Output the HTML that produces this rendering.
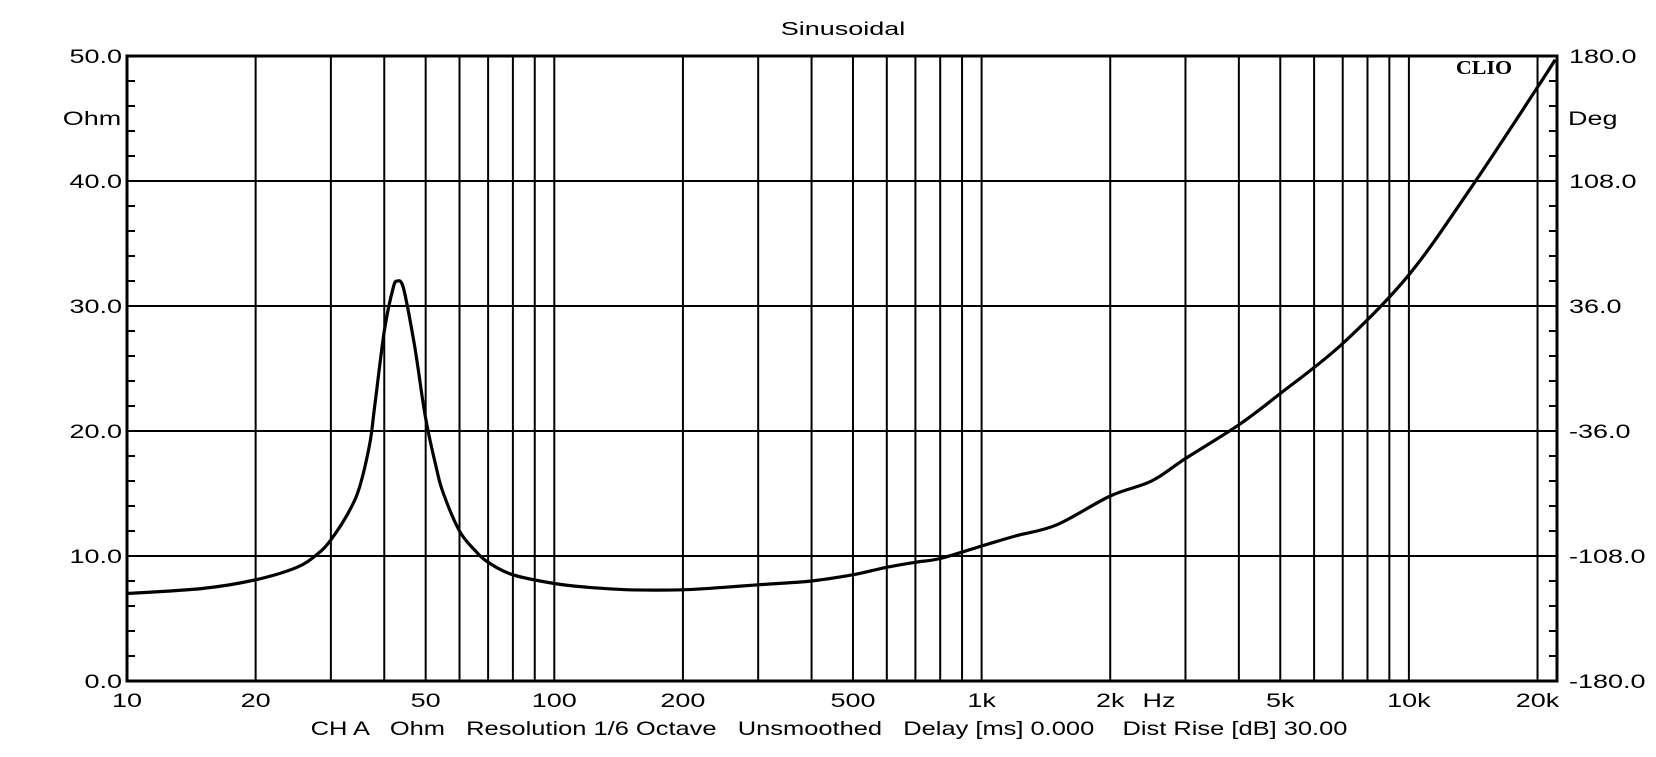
<!DOCTYPE html>
<html><head><meta charset="utf-8"><style>
body{margin:0;background:#fff;}
svg text{font-family:"Liberation Sans",sans-serif;fill:#000;}
</style></head><body>
<svg id="chart" width="1656" height="752" xmlns="http://www.w3.org/2000/svg">
<rect width="1656" height="752" fill="#fff"/>
<g id="grid"></g>
<g id="axes"></g>
<path id="curve" fill="none" stroke="#000" stroke-width="3.2" stroke-linejoin="round"/>
<text transform="translate(843,35) scale(1.5,1)" font-size="18" text-anchor="middle">Sinusoidal</text>
<text transform="translate(1484,74) scale(1.1,1)" font-size="20" font-weight="bold" text-anchor="middle" style="font-family:'Liberation Serif',serif">CLIO</text>
<text transform="translate(92,125) scale(1.42,1)" font-size="19" text-anchor="middle">Ohm</text>
<text transform="translate(1568,125) scale(1.42,1)" font-size="19">Deg</text>
<text transform="translate(1159,707) scale(1.42,1)" font-size="19" text-anchor="middle">Hz</text>
<text transform="translate(829,735) scale(1.34,1)" font-size="19" text-anchor="middle" xml:space="preserve">CH A   Ohm   Resolution 1/6 Octave   Unsmoothed   Delay [ms] 0.000    Dist Rise [dB] 30.00</text>
</svg>
<script>
const freqs=[10,15,20,25,28,30,33,35,37,38,40,42,43,44,45,47,48,50,53,55,60,65,70,80,100,120,150,200,250,300,400,500,600,700,800,1000,1200,1500,2000,2500,3000,4000,5000,7000,10000,14000,20000,22000];
const ohms=[7.0,7.4,8.1,9.1,10.2,11.3,13.5,15.5,19,22,28,31.5,32,31.8,30.5,27,25,21,17,15,12,10.5,9.5,8.5,7.8,7.5,7.3,7.3,7.5,7.7,8.0,8.5,9.1,9.5,9.8,10.8,11.6,12.5,14.8,16,17.8,20.5,23,27,32.5,39.5,47.5,49.7];
const yTicks=[0,10,20,30,40,50];
const yTickLabels=["0.0","10.0","20.0","30.0","40.0","50.0"];
const degLabels=["-180.0","-108.0","-36.0","36.0","108.0","180.0"];
const xLabelVals=[10,20,50,100,200,500,1000,2000,5000,10000,20000];
const xLabels=["10","20","50","100","200","500","1k","2k","5k","10k","20k"];
const NS="http://www.w3.org/2000/svg";
const L=127,R=1557,T=56,B=681,dec=427.3,SX=1.42;
const X=f=>L+Math.log10(f/10)*dec;
const Y=v=>B-(v/50)*(B-T);
function mk(tag,attrs,parent){const e=document.createElementNS(NS,tag);for(const k in attrs)e.setAttribute(k,attrs[k]);parent.appendChild(e);return e;}
function txt(x,y,s,anchor,parent){return mk('text',{transform:`translate(${x},${y}) scale(${SX},1)`,'font-size':19,'text-anchor':anchor},parent);}
const grid=document.getElementById('grid'),axes=document.getElementById('axes');
for(let d=10;d<=10000;d*=10){for(let m=1;m<=9;m++){const f=d*m;if(f===10)continue;if(X(f)>=R)continue;
const l=mk('line',{x1:X(f),x2:X(f),y1:T,y2:B,stroke:'#000','stroke-width':2},grid);

}}
yTicks.forEach((v,i)=>{
if(v>0&&v<50){const l=mk('line',{x1:L,x2:R,y1:Y(v),y2:Y(v),stroke:'#000','stroke-width':2},grid);

}
const t=txt(L-5,Y(v)+7,0,'end',axes);t.textContent=yTickLabels[i];


const t2=txt(R+12,Y(v)+7,0,'start',axes);t2.textContent=degLabels[i];


});
for(let v=2;v<50;v+=2){mk('line',{x1:L,x2:L+8,y1:Y(v),y2:Y(v),stroke:'#000','stroke-width':2},axes);
mk('line',{x1:R-8,x2:R,y1:Y(v),y2:Y(v),stroke:'#000','stroke-width':2},axes);}
xLabelVals.forEach((f,i)=>{const t=txt(X(f),707,0,'middle',axes);t.textContent=xLabels[i];

});
const fr=mk('rect',{x:L,y:T,width:R-L,height:B-T,fill:'none',stroke:'#000','stroke-width':3},axes);


const P=freqs.map((f,i)=>[X(f),Y(ohms[i])]);
let d='M'+P[0][0].toFixed(1)+','+P[0][1].toFixed(1);
for(let i=0;i<P.length-1;i++){const p0=P[Math.max(0,i-1)],p1=P[i],p2=P[i+1],p3=P[Math.min(P.length-1,i+2)];
const c1=[p1[0]+(p2[0]-p0[0])/6,p1[1]+(p2[1]-p0[1])/6],c2=[p2[0]-(p3[0]-p1[0])/6,p2[1]-(p3[1]-p1[1])/6];
d+=`C${c1[0].toFixed(1)},${c1[1].toFixed(1)} ${c2[0].toFixed(1)},${c2[1].toFixed(1)} ${p2[0].toFixed(1)},${p2[1].toFixed(1)}`;}
document.getElementById('curve').setAttribute('d',d);
</script>
</body></html>
